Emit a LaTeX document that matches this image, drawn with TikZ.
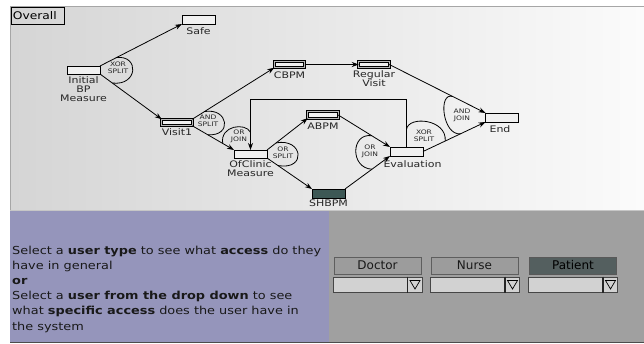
\documentclass[tikz,border=0pt]{standalone}
\usepackage{fontspec}
\setmainfont{DejaVu Sans}
\newfontfamily\dlab[FakeStretch=1.22]{DejaVu Sans}
\newfontfamily\blab[FakeStretch=1.17]{DejaVu Sans}
\usetikzlibrary{arrows.meta,calc}
\definecolor{topL}{HTML}{D5D5D5}
\definecolor{topR}{HTML}{FBFBFB}
\definecolor{purp}{HTML}{9595BB}
\definecolor{pgray}{HTML}{A0A0A0}
\definecolor{btnfill}{HTML}{9C9C9C}
\definecolor{patbtn}{HTML}{545F5F}
\definecolor{shb}{HTML}{3D5855}
\definecolor{ddfill}{HTML}{D2D2D2}
\definecolor{btnbd}{HTML}{5E5E5E}
\tikzset{
 task/.style={draw=black, line width=0.9pt, fill=white!94!black, minimum width=33pt, minimum height=9pt, inner sep=0pt, outer sep=0pt},
 dtask/.style={task, line width=0.7pt, double=gray!55, double distance=1.4pt, minimum width=30.5pt, minimum height=6.5pt},
 lab/.style={font=\dlab\fontsize{9}{9}\selectfont, align=center, inner sep=0pt, text=black!85},
 gw/.style={line width=0.8pt},
 gwt/.style={font=\dlab\fontsize{6.2}{7.3}\selectfont, align=center, inner sep=0pt, text=black!85},
 arr/.style={line width=0.8pt, -{Stealth[length=7pt,width=5pt]}},
 btn/.style={draw=btnbd, line width=1pt, fill=btnfill, minimum width=87pt, minimum height=17pt, inner sep=0pt, font=\fontsize{12}{12}\selectfont, text=black!90},
 dd/.style={draw=gray!55!black, line width=1pt, fill=ddfill, minimum width=89pt, minimum height=15pt, inner sep=0pt},
}
\begin{document}
\begin{tikzpicture}[x=1pt,y=-1pt]
\useasboundingbox (0,0) rectangle (644,343);
\fill[white] (0,0) rectangle (644,343);
% panels
\shade[left color=topL,right color=topR] (10,6) rectangle (644,210);
\draw[gray!70,line width=0.8pt] (10,210) -- (10,6) -- (644,6);
\draw[gray!45,line width=0.8pt] (10,210.5) -- (644,210.5);
\fill[purp] (10,211) rectangle (329,343);
\fill[pgray] (329,211) rectangle (644,343);
\draw[gray!60!black,line width=0.8pt] (10,342.5) -- (644,342.5);

\node[draw=black, line width=0.7pt, anchor=north west, text width=49pt, align=left, minimum height=17pt, inner xsep=2pt, inner ysep=1pt, font=\blab\fontsize{10.5}{10.5}\selectfont] (ovr) at (10.5,6.5) {Overall};

% tasks
\node[task, minimum height=8pt, label={[lab,name=initl,label distance=2pt]below:Initial\\BP\\Measure}] (init) at (83.5,70) {};
\node[task, label={[lab,name=safel,label distance=3pt]below:Safe}] (safe) at (198.5,19.5) {};
\node[dtask, label={[lab,name=v1l,label distance=2.5pt]below:Visit1}] (visit1) at (177,122.5) {};
\node[dtask, label={[lab,name=cbpml,label distance=3.5pt]below:CBPM}] (cbpm) at (289.5,64.5) {};
\node[dtask, label={[lab,name=rvl,label distance=2.5pt]below:Regular\\Visit}] (rv) at (374,64.5) {};
\node[task, minimum height=8pt, label={[lab,name=ofcl,label distance=2.5pt]below:OfClinic\\Measure}] (ofc) at (250.5,154) {};
\node[dtask, label={[lab,name=abpml,label distance=4.5pt]below:ABPM}] (abpm) at (323,115) {};
\node[task, fill=shb, label={[lab,name=shbpml,label distance=2pt]below:SHBPM}] (shbpm) at (328.5,193.5) {};
\node[task, label={[lab,name=evall,label distance=4.5pt,xshift=6pt]below:Evaluation}] (eval) at (406.5,151.5) {};
\node[task, label={[lab,name=endl,label distance=3pt,xshift=-2pt]below:End}] (end) at (502,117.5) {};

\coordinate (loopR) at (406.5,99.3);
\coordinate (loopL) at (250.5,99.3);

% connectors
\draw[arr] (init.north east) -- (safe.south west);
\draw[arr] (init.south east) -- (visit1.north west);
\draw[arr] (visit1.north east) -- (cbpm.south west);
\draw[arr] (visit1.south east) -- (ofc.north west);
\draw[arr] (cbpm.east) -- (rv.west);
\draw[arr] (rv.east) -- (end.north west);
\draw[arr] (ofc.north east) -- (abpm.south west);
\draw[arr] (ofc.south east) -- (shbpm.north west);
\draw[arr] (abpm.east) -- (eval.north west);
\draw[arr] (shbpm.north east) -- (eval.south west);
\draw[arr] (eval.east) -- (end.south west);
\draw[arr] (eval.north) -- (loopR) -- (loopL) -- (ofc.north);

% gateways
\coordinate (g1a) at ($(init.north east)!0.2!(safe.south west)$);
\coordinate (g1b) at ($(init.south east)!0.2!(visit1.north west)$);
\draw[gw] (g1a) .. controls ($(g1a)+(23,-3)$) and ($(g1b)+(26,3)$) .. (g1b);
\coordinate (g2a) at ($(visit1.north east)!0.15!(cbpm.south west)$);
\coordinate (g2b) at ($(visit1.south east)!0.37!(ofc.north west)$);
\draw[gw] (g2a) .. controls ($(g2a)+(24,-4)$) and ($(g2b)+(25,2)$) .. (g2b);
\coordinate (g3a) at ($(visit1.south east)!0.73!(ofc.north west)$);
\coordinate (g3b) at ($(loopL)!0.65!(ofc.north)$);
\draw[gw] (g3a) .. controls ($(g3a)+(-3,-18)$) and ($(g3b)+(-5,-10)$) .. (g3b);
\coordinate (g4a) at ($(ofc.north east)!0.225!(abpm.south west)$);
\coordinate (g4b) at ($(ofc.south east)!0.244!(shbpm.north west)$);
\draw[gw] (g4a) .. controls ($(g4a)+(27,-5)$) and ($(g4b)+(29,5)$) .. (g4b);
\coordinate (g5a) at ($(abpm.east)!0.647!(eval.north west)$);
\coordinate (g5b) at ($(shbpm.north east)!0.6!(eval.south west)$);
\draw[gw] (g5a) .. controls ($(g5a)+(-21,-3)$) and ($(g5b)+(-22,-1)$) .. (g5b);
\coordinate (g6a) at ($(eval.north)!0.37!(loopR)$);
\coordinate (g6b) at ($(eval.east)!0.355!(end.south west)$);
\draw[gw] (g6a) .. controls ($(g6a)+(2,-14)$) and ($(g6b)+(2,-22)$) .. (g6b);
\coordinate (g7a) at ($(rv.east)!0.66!(end.north west)$);
\coordinate (g7b) at ($(eval.east)!0.6!(end.south west)$);
\draw[gw] (g7a) .. controls ($(g7a)+(-15,-5)$) and ($(g7b)+(-18,2)$) .. (g7b);

\node[gwt] (t1) at (118,68) {XOR\\SPLIT};
\node[gwt] (t2) at (208,121) {AND\\SPLIT};
\node[gwt] (t3) at (239,136.5) {OR\\JOIN};
\node[gwt] (t4) at (283,152.5) {OR\\SPLIT};
\node[gwt] (t5) at (370,151) {OR\\JOIN};
\node[gwt] (t6) at (424,135.5) {XOR\\SPLIT};
\node[gwt] (t7) at (462,115.5) {AND\\JOIN};

% bottom info text
\node[anchor=north west, align=left, inner sep=0pt, text=black!90, font=\blab\fontsize{11}{15.2}\selectfont] (info) at (12,245.5)
{Select a \textbf{user type} to see what \textbf{access} do they\\
have in general\\
\textbf{or}\\
Select a \textbf{user from the drop down} to see\\
what \textbf{specific access} does the user have in\\
the system};

% buttons
\node[btn] (doc) at (377.5,265.5) {Doctor};
\node[btn] (nur) at (474.5,265.5) {Nurse};
\node[btn, fill=patbtn, draw=black!65, text=black] (pat) at (573,265.5) {Patient};
\node[dd] (dd1) at (377.5,284.5) {};
\node[dd] (dd2) at (475,284.5) {};
\node[dd] (dd3) at (573,284.5) {};
\foreach \d in {dd1,dd2,dd3}{
  \draw[line width=1.2pt, black!85] ($(\d.north east)+(-15,0)$) -- ($(\d.south east)+(-15,0)$);
  \draw[line width=0.7pt] ($(\d.east)+(-12.5,-4)$) -- ($(\d.east)+(-2.5,-4)$) -- ($(\d.east)+(-7.5,4.5)$) -- cycle;
}
\end{tikzpicture}
\end{document}
